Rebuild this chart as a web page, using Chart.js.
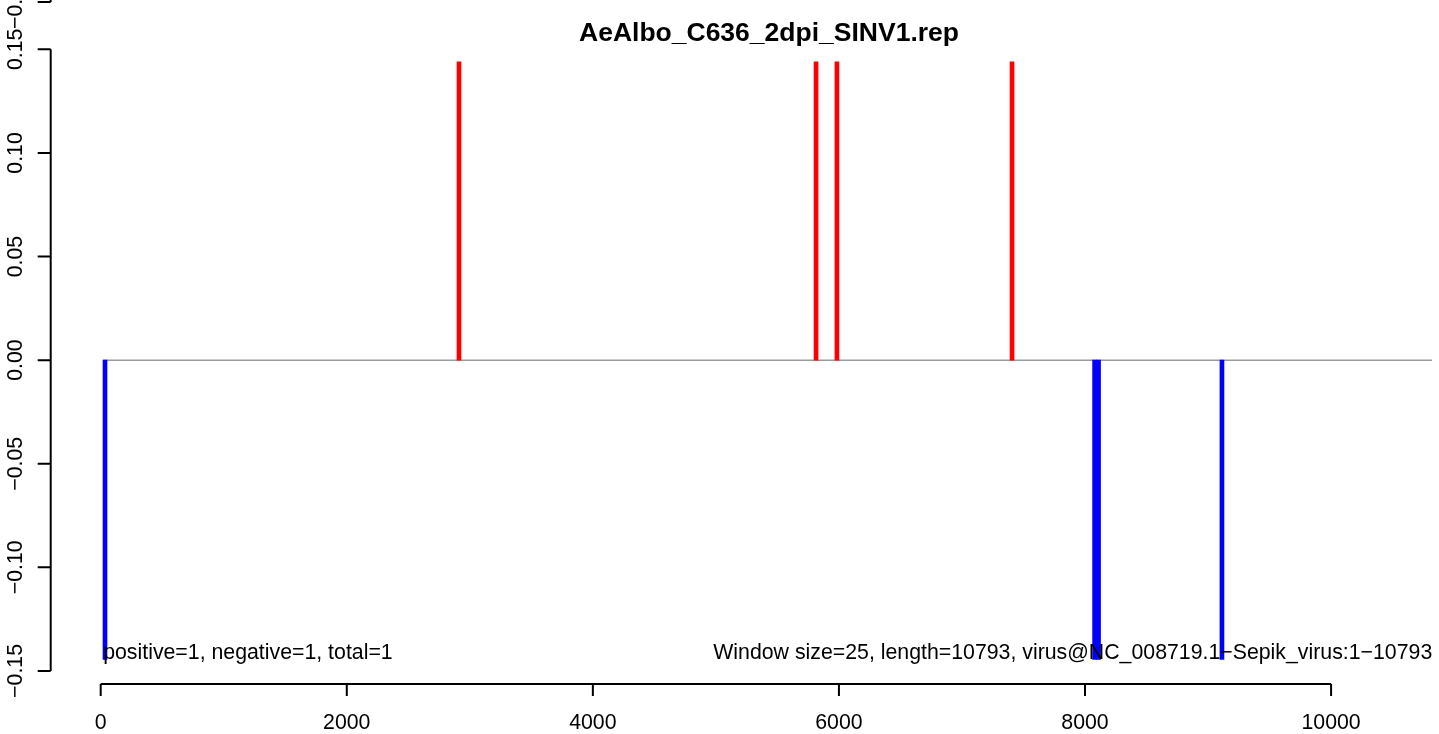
<!DOCTYPE html>
<html>
<head>
<meta charset="utf-8">
<script src="https://cdn.jsdelivr.net/npm/chart.js@4/dist/chart.umd.min.js"></script>
<style>
  html, body { margin: 0; padding: 0; background: #ffffff; overflow: hidden; }
  #wrap { width: 1439px; height: 734px; position: relative; }
</style>
</head>
<body>
<div id="wrap"><canvas id="c" width="1439" height="734"></canvas></div>
<script>
// ---- data ----
const chartTitle = "AeAlbo_C636_2dpi_SINV1.rep";
const positivePositions = [2912, 5814, 5984, 7407];
const positiveValues    = [0.144, 0.144, 0.144, 0.144];
const negativePositions = [35, 8078, 8110, 9113];
const negativeValues    = [-0.1444, -0.1444, -0.1444, -0.1444];
const baselineX = [20, 10820];
const baselineY = [0, 0];
const xTickValues = [0, 2000, 4000, 6000, 8000, 10000];
const xTickLabels = ["0", "2000", "4000", "6000", "8000", "10000"];
const yTickValues = [-0.15, -0.10, -0.05, 0.00, 0.05, 0.10, 0.15];
const yTickLabels = ["\u22120.15", "\u22120.10", "\u22120.05", "0.00", "0.05", "0.10", "0.15"];
const leftNote  = "positive=1, negative=1, total=1";
const rightNote = "Window size=25, length=10793, virus@NC_008719.1\u2212Sepik_virus:1\u221210793";
const leftNoteX = 20;
const rightNoteX = 10822;
const upperPanelLabel = "\u22120.15";

// ---- scale limits ----
const X_MIN = -406.4, X_MAX = 10877.1;
const Y_MIN = -0.1563, Y_MAX = 0.1563;

const FONT = '"Liberation Sans", Arial, Helvetica, sans-serif';
const BASE_PX = 21.3;

const rAxesPlugin = {
  id: 'rAxes',
  afterDatasetsDraw(chart) {
    const ctx = chart.ctx;
    const xs = chart.scales.x, ys = chart.scales.y;
    const area = chart.chartArea;
    ctx.save();
    ctx.strokeStyle = '#000';
    ctx.fillStyle = '#000';
    ctx.lineWidth = 2;
    ctx.lineCap = 'butt';

    // y axis (left)
    const axX = area.left;
    const yTop = ys.getPixelForValue(yTickValues[yTickValues.length - 1]);
    const yBot = ys.getPixelForValue(yTickValues[0]);
    ctx.beginPath();
    ctx.moveTo(axX, yTop); ctx.lineTo(axX, yBot);
    yTickValues.forEach(v => {
      const p = ys.getPixelForValue(v);
      ctx.moveTo(axX, p); ctx.lineTo(axX - 13, p);
    });
    // fragment of the panel above (cropped)
    ctx.moveTo(axX, 0); ctx.lineTo(axX, 2);
    ctx.moveTo(axX, 2); ctx.lineTo(axX - 13, 2);
    ctx.stroke();

    ctx.font = BASE_PX + 'px ' + FONT;
    ctx.textAlign = 'center';
    ctx.textBaseline = 'alphabetic';
    yTickValues.forEach((v, i) => {
      const p = ys.getPixelForValue(v);
      ctx.save();
      ctx.translate(22, p);
      ctx.rotate(-Math.PI / 2);
      ctx.fillText(yTickLabels[i], 0, 0);
      ctx.restore();
    });
    ctx.save();
    ctx.translate(22, 2);
    ctx.rotate(-Math.PI / 2);
    ctx.fillText(upperPanelLabel, 0, 0);
    ctx.restore();

    // x axis (bottom)
    const axY = area.bottom;
    const x0 = xs.getPixelForValue(xTickValues[0]);
    const x1 = xs.getPixelForValue(xTickValues[xTickValues.length - 1]);
    ctx.beginPath();
    ctx.moveTo(x0, axY); ctx.lineTo(x1, axY);
    xTickValues.forEach(v => {
      const p = xs.getPixelForValue(v);
      ctx.moveTo(p, axY); ctx.lineTo(p, axY + 12);
    });
    ctx.stroke();
    ctx.textAlign = 'center';
    xTickValues.forEach((v, i) => {
      ctx.fillText(xTickLabels[i], xs.getPixelForValue(v), 729);
    });

    // notes
    ctx.textAlign = 'left';
    ctx.fillText(leftNote, xs.getPixelForValue(leftNoteX), 659);
    ctx.textAlign = 'right';
    ctx.fillText(rightNote, xs.getPixelForValue(rightNoteX), 659);

    // title (centred on the full plot region of the original figure)
    ctx.font = 'bold 26.5px ' + FONT;
    ctx.textAlign = 'center';
    ctx.fillText(chartTitle, 769, 41);
    ctx.restore();
  }
};

new Chart(document.getElementById('c'), {
  type: 'bar',
  data: {
    datasets: [
      {
        type: 'line',
        data: baselineX.map((x, i) => ({ x: x, y: baselineY[i] })),
        borderColor: '#9a9a9a',
        borderWidth: 1.5,
        pointRadius: 0,
        fill: false,
        order: 3
      },
      {
        data: positivePositions.map((x, i) => ({ x: x, y: positiveValues[i] })),
        backgroundColor: '#ff0000',
        borderWidth: 0,
        barThickness: 4,
        grouped: false,
        order: 1
      },
      {
        data: negativePositions.map((x, i) => ({ x: x, y: negativeValues[i] })),
        backgroundColor: '#0000ff',
        borderWidth: 0,
        barThickness: 4,
        grouped: false,
        order: 1
      }
    ]
  },
  options: {
    responsive: false,
    animation: false,
    devicePixelRatio: 1,
    layout: { padding: { left: 50.7, right: 0, top: 36.3, bottom: 50 } },
    plugins: { legend: { display: false }, tooltip: { enabled: false }, title: { display: false } },
    scales: {
      x: { type: 'linear', min: X_MIN, max: X_MAX, display: false, offset: false, grid: { offset: false } },
      y: { type: 'linear', min: Y_MIN, max: Y_MAX, display: false }
    }
  },
  plugins: [rAxesPlugin]
});
</script>
</body>
</html>
